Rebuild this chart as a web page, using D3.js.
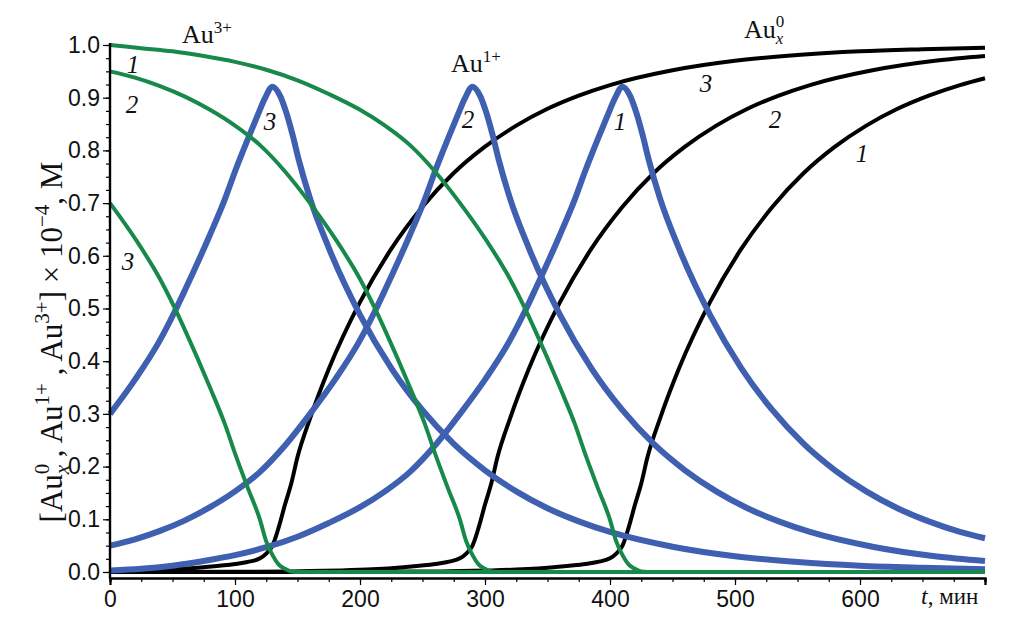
<!DOCTYPE html>
<html><head><meta charset="utf-8">
<script src="https://cdn.jsdelivr.net/npm/d3@7"></script>
<style>body{margin:0;background:#fff}svg{display:block}</style>
</head><body><svg id="c" width="1010" height="638"></svg>
<script>
// ---- data: [t (min), concentration (x1e-4 M)] ----
const au3_1 = [[0,1.0],[25,0.994],[50,0.988],[75,0.979],[100,0.968],[125,0.953],[150,0.933],[175,0.907],[200,0.877],[220,0.847],[240,0.81],[260,0.76],[280,0.70],[300,0.633],[320,0.556],[333,0.495],[340,0.459],[360,0.35],[372,0.28],[380,0.225],[390,0.161],[400,0.099],[405,0.058],[410,0.032],[415,0.014],[420,0.006],[425,0.001],[430,0],[700,0]];
const au3_2 = [[0,0.95],[20,0.938],[40,0.922],[60,0.902],[80,0.877],[100,0.847],[120,0.81],[140,0.76],[160,0.70],[180,0.633],[200,0.556],[213,0.495],[220,0.459],[240,0.35],[252,0.28],[260,0.225],[270,0.161],[280,0.099],[285,0.058],[290,0.032],[295,0.014],[300,0.006],[305,0.001],[310,0],[700,0]];
const au3_3 = [[0,0.70],[20,0.633],[40,0.556],[53,0.495],[60,0.459],[80,0.35],[92,0.28],[100,0.225],[110,0.161],[120,0.099],[125,0.058],[130,0.032],[135,0.014],[140,0.006],[145,0.001],[150,0],[700,0]];

const au1_1 = [[0,0.003],[25,0.006],[50,0.012],[75,0.021],[100,0.032],[125,0.047],[150,0.067],[175,0.093],[200,0.123],[220,0.153],[240,0.19],[260,0.24],[280,0.30],[300,0.365],[320,0.44],[333,0.50],[340,0.535],[360,0.64],[372,0.708],[380,0.76],[390,0.82],[398,0.866],[404,0.899],[410,0.921],[416,0.904],[421,0.872],[426,0.83],[431,0.782],[440,0.709],[455,0.615],[480,0.488],[505,0.387],[530,0.307],[555,0.243],[580,0.193],[605,0.153],[630,0.121],[655,0.096],[680,0.076],[700,0.064]];
const au1_2 = [[0,0.05],[20,0.062],[40,0.078],[60,0.098],[80,0.123],[100,0.153],[120,0.19],[140,0.24],[160,0.30],[180,0.365],[200,0.44],[213,0.50],[220,0.535],[240,0.64],[252,0.708],[260,0.76],[270,0.82],[278,0.866],[284,0.899],[290,0.921],[296,0.904],[301,0.872],[306,0.83],[311,0.782],[320,0.709],[335,0.615],[360,0.488],[385,0.387],[410,0.307],[435,0.243],[460,0.193],[485,0.153],[510,0.121],[535,0.096],[560,0.076],[610,0.048],[660,0.030],[700,0.021]];
const au1_3 = [[0,0.30],[20,0.365],[40,0.44],[53,0.50],[60,0.535],[80,0.64],[92,0.708],[100,0.76],[110,0.82],[118,0.866],[124,0.899],[130,0.921],[136,0.904],[141,0.872],[146,0.83],[151,0.782],[160,0.709],[175,0.615],[200,0.488],[225,0.387],[250,0.307],[275,0.243],[300,0.193],[325,0.153],[350,0.121],[375,0.096],[400,0.076],[450,0.048],[500,0.030],[550,0.019],[600,0.012],[650,0.008],[700,0.005]];

const au0_1 = [[0,0],[200,0],[220,0.0005],[260,0.001],[280,0.002],[305,0.003],[330,0.005],[355,0.009],[380,0.015],[390,0.019],[400,0.026],[405,0.035],[410,0.05],[415,0.085],[420,0.128],[425,0.168],[430,0.218],[440,0.291],[455,0.385],[480,0.512],[505,0.613],[530,0.693],[555,0.757],[580,0.807],[605,0.847],[630,0.879],[655,0.904],[680,0.924],[700,0.937]];
const au0_2 = [[0,0],[100,0.0005],[140,0.001],[160,0.002],[185,0.003],[210,0.005],[235,0.009],[260,0.015],[270,0.019],[280,0.026],[285,0.035],[290,0.05],[295,0.085],[300,0.128],[305,0.168],[310,0.218],[320,0.291],[335,0.385],[360,0.512],[385,0.613],[410,0.693],[435,0.757],[460,0.807],[485,0.847],[510,0.879],[535,0.904],[560,0.924],[610,0.952],[660,0.970],[700,0.979]];
const au0_3 = [[0,0],[25,0.002],[50,0.005],[75,0.009],[100,0.015],[110,0.019],[120,0.026],[125,0.035],[130,0.05],[135,0.085],[140,0.128],[145,0.168],[150,0.218],[160,0.291],[175,0.385],[200,0.512],[225,0.613],[250,0.693],[275,0.757],[300,0.807],[325,0.847],[350,0.879],[375,0.904],[400,0.924],[450,0.952],[500,0.970],[550,0.981],[600,0.988],[650,0.992],[700,0.995]];

const xTicks = [0,100,200,300,400,500,600];
const yTicks = [0,0.1,0.2,0.3,0.4,0.5,0.6,0.7,0.8,0.9,1.0];

// ---- drawing ----
const svg = d3.select("#c");
svg.append("rect").attr("width",1010).attr("height",638).attr("fill","#fff");
const x = d3.scaleLinear().domain([0,700]).range([110,985]);
const y = d3.scaleLinear().domain([-0.0114,1]).range([578,45]);
const line = d3.line().x(d=>x(d[0])).y(d=>y(d[1])).curve(d3.curveMonotoneX);

const BLUE="#3f5fb0", GREEN="#17894a", BLACK="#000";
[au0_1,au0_2,au0_3].forEach(s=>svg.append("path").attr("d",line(s)).attr("fill","none").attr("stroke",BLACK).attr("stroke-width",4));
[au1_1,au1_2,au1_3].forEach(s=>svg.append("path").attr("d",line(s)).attr("fill","none").attr("stroke",BLUE).attr("stroke-width",6));
[au3_1,au3_2,au3_3].forEach(s=>svg.append("path").attr("d",line(s)).attr("fill","none").attr("stroke",GREEN).attr("stroke-width",4));

// axes
const xAxisMinor = d3.axisBottom(x).tickValues(d3.range(0,701,25)).tickSize(4).tickFormat("");
const xAxisMajor = d3.axisBottom(x).tickValues(xTicks.concat([700])).tickSize(7).tickFormat(d=>d===700?"":d3.format("d")(d)).tickPadding(6);
const gx1 = svg.append("g").attr("transform","translate(0,578)").call(xAxisMinor);
const gx2 = svg.append("g").attr("transform","translate(0,578)").call(xAxisMajor);
[gx1,gx2].forEach(g=>{g.select(".domain").attr("stroke","#000").attr("stroke-width",2.2);g.selectAll(".tick line").attr("stroke","#000").attr("stroke-width",1.2);});
gx2.selectAll("text").attr("font-family","Liberation Sans, Arial, sans-serif").attr("font-size",23).attr("fill","#111");

const yAxisMinor = d3.axisLeft(y).tickValues(d3.range(0,1.0001,0.025)).tickSize(4).tickFormat("");
const yAxisMajor = d3.axisLeft(y).tickValues(yTicks).tickSize(7).tickFormat(d3.format(".1f")).tickPadding(3);
const gy1 = svg.append("g").attr("transform","translate(110,0)").call(yAxisMinor);
const gy2 = svg.append("g").attr("transform","translate(110,0)").call(yAxisMajor);
[gy1,gy2].forEach(g=>{g.select(".domain").remove();g.selectAll(".tick line").attr("stroke","#000").attr("stroke-width",1.2);});
gy2.selectAll("text").attr("font-family","Liberation Sans, Arial, sans-serif").attr("font-size",23).attr("fill","#111");
svg.append("line").attr("x1",110).attr("x2",110).attr("y1",y(1.0)-2).attr("y2",579).attr("stroke","#000").attr("stroke-width",2.4);

// rich text helper
function rich(g, parts){
  const t = g.append("text").attr("font-family","Liberation Serif, Times New Roman, serif").attr("fill","#111");
  parts.forEach(p=>{
    const s=t.append("tspan").text(p.t).attr("font-size",p.s);
    if(p.dy!==undefined) s.attr("dy",p.dy);
    if(p.dx!==undefined) s.attr("dx",p.dx);
    if(p.i) s.attr("font-style","italic");
  });
  return t;
}
// species labels
rich(svg.append("g").attr("transform","translate(182,43)"),[{t:"Au",s:26},{t:"3+",s:17,dy:-10}]);
rich(svg.append("g").attr("transform","translate(451,72)"),[{t:"Au",s:26},{t:"1+",s:17,dy:-10}]);
rich(svg.append("g").attr("transform","translate(744,38)"),[{t:"Au",s:26},{t:"0",s:17,dy:-11},{t:"x",s:17,i:true,dx:-8.5,dy:17}]);

// curve numbers
const nums = [
  {t:"1",x:133,y:73},{t:"2",x:132,y:113},{t:"3",x:128,y:270},
  {t:"3",x:270,y:130},{t:"2",x:468,y:128},{t:"1",x:620,y:130},
  {t:"3",x:706,y:92},{t:"2",x:775,y:128},{t:"1",x:862,y:162}
];
svg.selectAll("text.num").data(nums).enter().append("text").attr("class","num")
  .attr("x",d=>d.x).attr("y",d=>d.y).attr("text-anchor","middle")
  .attr("font-family","Liberation Serif, Times New Roman, serif").attr("font-style","italic")
  .attr("font-size",25).attr("fill","#111").text(d=>d.t);

// x-axis title
rich(svg.append("g").attr("transform","translate(921,604)"),[{t:"t",s:24,i:true},{t:", мин",s:23}]);

// y-axis title
rich(svg.append("g").attr("transform","translate(62,342) rotate(-90)"),[
  {t:"[Au",s:31},{t:"0",s:21,dy:-13},{t:"x",s:21,i:true,dx:-10.5,dy:20},
  {t:" , Au",s:31,dy:-7},{t:"1+",s:21,dy:-13},{t:" , Au",s:31,dy:13},{t:"3+",s:21,dy:-13},
  {t:"] × 10",s:31,dy:13},{t:"−4",s:21,dy:-13},{t:", M",s:31,dy:13}
]).attr("text-anchor","middle");
</script></body></html>
